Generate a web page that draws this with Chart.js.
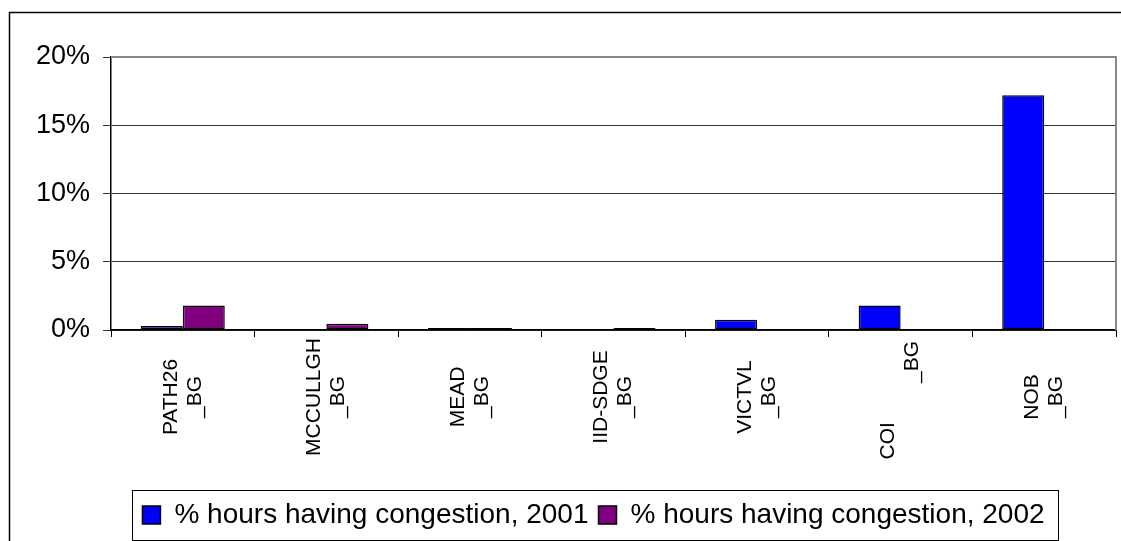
<!DOCTYPE html>
<html>
<head>
<meta charset="utf-8">
<script src="https://cdn.jsdelivr.net/npm/chart.js@4.4.1/dist/chart.umd.min.js"></script>
<style>
  html, body { margin: 0; padding: 0; background: #fff; }
  canvas { display: block; }
</style>
</head>
<body>
<canvas id="c" width="1121" height="541"></canvas>
<script>
// Branch groups on the category axis
const categories = ['PATH26_BG', 'MCCULLGH_BG', 'MEAD_BG', 'IID-SDGE_BG', 'VICTVL_BG', 'COI_BG', 'NOB_BG'];
// Wrapped label text for each group (two lines, read bottom to top)
const categoryLines = [
  ['PATH26', '_BG'],
  ['MCCULLGH', '_BG'],
  ['MEAD', '_BG'],
  ['IID-SDGE', '_BG'],
  ['VICTVL', '_BG'],
  ['COI               ', '            _BG'],
  ['NOB', '_BG']
];
// Share of hours with congestion, in percent
const congestion2001 = [0.3, 0, 0.15, 0, 0.75, 1.8, 17.2];
const congestion2002 = [1.8, 0.45, 0.15, 0.15, 0, 0, 0];
const seriesNames = ['% hours having congestion, 2001', '% hours having congestion, 2002'];
const yTicks = [0, 5, 10, 15, 20];

const FONT = '"Liberation Sans", Arial, sans-serif';
const PAD_LEFT = 20;
const LEGEND_CENTRE_X = 593.5;
const LEGEND_FONT = 28;
const LEGEND_PAD = 10;

// White page, outer frame and the grey plot-area outline
const framePlugin = {
  id: 'frame',
  beforeDraw(chart) {
    const ctx = chart.ctx;
    ctx.save();
    ctx.fillStyle = '#fff';
    ctx.fillRect(0, 0, chart.width, chart.height);
    ctx.strokeStyle = '#000';
    ctx.lineWidth = 1.5;
    ctx.strokeRect(9.5, 12.5, chart.width + 10, chart.height + 10);
    ctx.restore();
  },
  beforeDatasetsDraw(chart) {
    const { ctx, chartArea: a } = chart;
    ctx.save();
    ctx.strokeStyle = '#888';
    ctx.lineWidth = 2;
    ctx.beginPath();
    ctx.moveTo(a.left, a.top);
    ctx.lineTo(a.right, a.top);
    ctx.lineTo(a.right, a.bottom);
    ctx.stroke();
    ctx.restore();
  }
};

// Rotated, centred two-line category labels under each group
const categoryLabelPlugin = {
  id: 'categoryLabels',
  afterDraw(chart) {
    const ctx = chart.ctx;
    const x = chart.scales.x;
    const centreY = 397;
    const lineGap = 24;
    ctx.save();
    ctx.font = '21px ' + FONT;
    ctx.fillStyle = '#000';
    ctx.textAlign = 'center';
    ctx.textBaseline = 'middle';
    categoryLines.forEach((lines, i) => {
      const cx = x.getPixelForValue(i);
      lines.forEach((txt, j) => {
        const off = (j - (lines.length - 1) / 2) * lineGap;
        ctx.save();
        ctx.translate(cx + off, centreY);
        ctx.rotate(-Math.PI / 2);
        ctx.fillText(txt, 0, 0);
        ctx.restore();
      });
    });
    ctx.restore();
  }
};

// Legend: centred under the plot with a box around its entries
const legendBoxPlugin = {
  id: 'legendBox',
  afterUpdate(chart) {
    const lg = chart.legend;
    if (!lg) return;
    const shift = LEGEND_CENTRE_X - (lg.left + lg.right) / 2;
    lg.left += shift;
    lg.right += shift;
  },
  afterDraw(chart) {
    const lg = chart.legend;
    if (!lg || !lg.lineWidths || !lg.lineWidths.length) return;
    const rowWidth = lg.lineWidths[0];
    const x0 = (lg.left + LEGEND_PAD + lg.right - rowWidth) / 2;
    const x1 = x0 + rowWidth - LEGEND_PAD;
    const mid = lg.top + LEGEND_PAD + LEGEND_FONT / 2;
    const ctx = chart.ctx;
    ctx.save();
    ctx.strokeStyle = '#000';
    ctx.lineWidth = 1;
    ctx.strokeRect(Math.round(x0 - 10) + 0.5, Math.round(mid - 25) + 0.5,
                   Math.round(x1 + 14 - (x0 - 10)), 50);
    ctx.restore();
  }
};

new Chart(document.getElementById('c'), {
  type: 'bar',
  data: {
    labels: categories,
    datasets: [
      {
        label: seriesNames[0],
        data: congestion2001,
        backgroundColor: '#0000ff',
        borderColor: '#000',
        borderWidth: 1.5,
        borderSkipped: false
      },
      {
        label: seriesNames[1],
        data: congestion2002,
        backgroundColor: '#800080',
        borderColor: '#000',
        borderWidth: 1.5,
        borderSkipped: false
      }
    ]
  },
  options: {
    responsive: false,
    animation: false,
    devicePixelRatio: 1,
    categoryPercentage: 0.585,
    barPercentage: 1.0,
    layout: { padding: { top: 57, right: 5, bottom: 2, left: PAD_LEFT } },
    plugins: {
      tooltip: { enabled: false },
      legend: {
        position: 'bottom',
        labels: {
          font: { family: FONT, size: LEGEND_FONT },
          color: '#000',
          boxWidth: 18,
          boxHeight: 18,
          padding: LEGEND_PAD
        }
      }
    },
    scales: {
      x: {
        offset: true,
        afterFit(scale) { scale.height = 161; },
        grid: {
          offset: true,
          drawOnChartArea: false,
          drawTicks: true,
          tickLength: 7,
          color: '#000',
          lineWidth: 1
        },
        border: { display: true, color: '#000', width: 1.5 },
        ticks: { display: false }
      },
      y: {
        min: 0,
        max: 20,
        afterFit(scale) { scale.width = 111 - PAD_LEFT; },
        afterBuildTicks(scale) { scale.ticks = yTicks.map(v => ({ value: v })); },
        grid: {
          color: '#333',
          lineWidth: 1,
          drawTicks: true,
          tickLength: 8
        },
        border: { display: true, color: '#000', width: 1.5 },
        ticks: {
          padding: 13,
          color: '#000',
          font: { family: FONT, size: 27 },
          callback: v => v + '%'
        }
      }
    }
  },
  plugins: [framePlugin, categoryLabelPlugin, legendBoxPlugin]
});
</script>
</body>
</html>
